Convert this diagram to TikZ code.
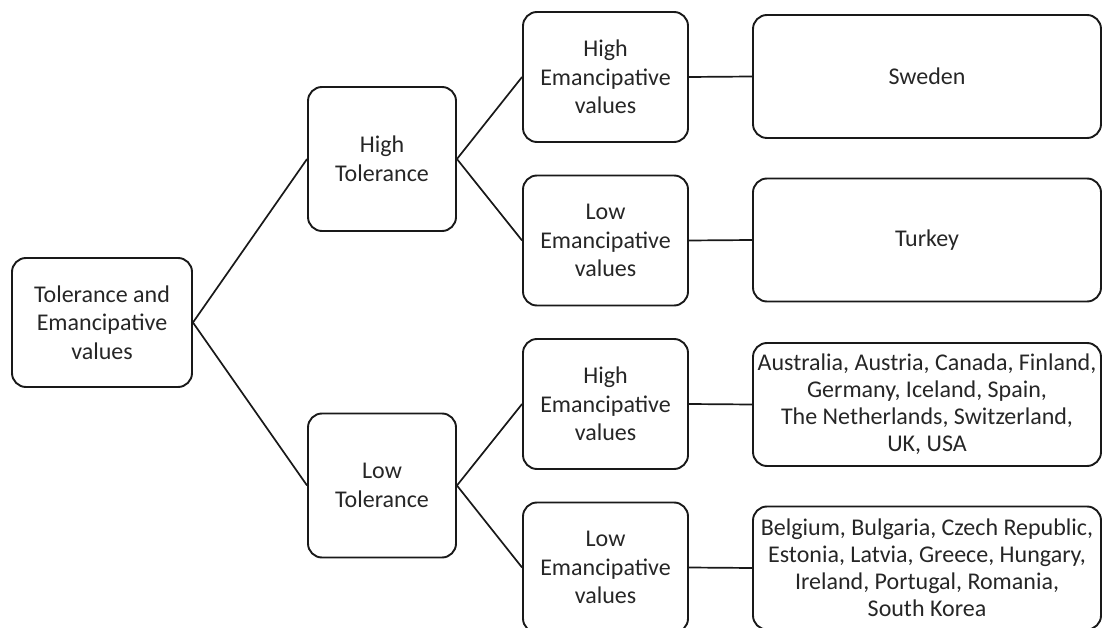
\documentclass[tikz,border=0pt]{standalone}
\usepackage{fontspec}
\setmainfont{Carlito}
\begin{document}
\begin{tikzpicture}[x=1pt,y=-1pt,
  box/.style={draw=black!90, line width=1.9pt, rounded corners=14pt, align=center,
    text=black!85, font=\fontsize{24}{28.5}\selectfont, inner sep=0pt},
  rootbox/.style={box, minimum width=180pt, minimum height=129pt},
  tolbox/.style={box, minimum width=148pt, minimum height=144pt},
  emabox/.style={box, minimum width=165pt, minimum height=130pt},
  cbox/.style={box, minimum width=348pt, minimum height=123pt, font=\fontsize{24}{27}\selectfont},
  link/.style={line width=1.7pt, draw=black!90}]
\useasboundingbox (0,0) rectangle (1103,628);
\node[rootbox] (root) at (102,322.5) {Tolerance and\\Emancipative\\values};
\node[tolbox] (ht) at (382,159) {High\\Tolerance};
\node[tolbox] (lt) at (382,485.5) {Low\\Tolerance};
\node[emabox] (e1) at (605.5,77) {High\\Emancipative\\values};
\node[emabox] (e2) at (605.5,240.5) {Low\\Emancipative\\values};
\node[emabox] (e3) at (605.5,404) {High\\Emancipative\\values};
\node[emabox] (e4) at (605.5,567.5) {Low\\Emancipative\\values};
\node[cbox] (c1) at (927,76.5) {Sweden};
\node[cbox] (c2) at (927,240) {Turkey};
\node[cbox] (c3) at (927,404.5) {Australia, Austria, Canada, Finland,\\Germany, Iceland, Spain,\\The Netherlands, Switzerland,\\UK, USA};
\node[cbox] (c4) at (927,568) {Belgium, Bulgaria, Czech Republic,\\Estonia, Latvia, Greece, Hungary,\\Ireland, Portugal, Romania,\\South Korea};
\draw[link] (root.east) -- (ht.west);
\draw[link] (root.east) -- (lt.west);
\draw[link] (ht.east) -- (e1.west);
\draw[link] (ht.east) -- (e2.west);
\draw[link] (lt.east) -- (e3.west);
\draw[link] (lt.east) -- (e4.west);
\draw[link] (e1.east) -- (c1.west);
\draw[link] (e2.east) -- (c2.west);
\draw[link] (e3.east) -- (c3.west);
\draw[link] (e4.east) -- (c4.west);
\end{tikzpicture}
\end{document}
